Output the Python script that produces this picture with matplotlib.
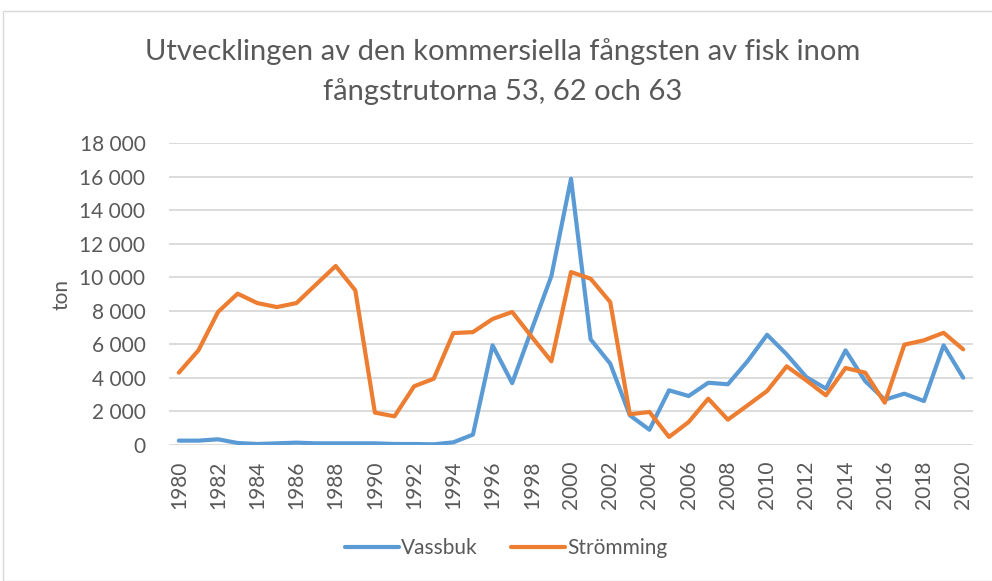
import matplotlib.pyplot as plt
import numpy as np
from matplotlib.patches import Rectangle

years = np.arange(1980, 2021)

vassbuk = [260, 260, 340, 120, 60, 100, 140, 100, 100, 100,
           100, 60, 60, 40, 160, 620, 5940, 3690, 6900, 10070,
           15870, 6300, 4850, 1770, 910, 3260, 2920, 3710, 3620, 4990,
           6570, 5400, 4050, 3360, 5640, 3810, 2700, 3060, 2620, 5940,
           4010]

stromming = [4310, 5640, 7930, 9020, 8460, 8220, 8460, 9570, 10670, 9220,
             1930, 1710, 3500, 3950, 6670, 6730, 7510, 7930, 6440, 4990,
             10310, 9910, 8520, 1830, 1970, 480, 1370, 2760, 1510, 2360,
             3220, 4690, 3850, 2960, 4590, 4310, 2520, 5980, 6240, 6690,
             5700]

yticks = np.arange(0, 18001, 2000)
ytick_labels = ["0"] + ["{:,}".format(v).replace(",", " ") for v in yticks[1:]]

txt = "#595959"
plt.rcParams['font.family'] = ['Lato', 'DejaVu Sans']

fig = plt.figure(figsize=(9.92, 5.81), dpi=100)
fig.patches.append(Rectangle((3 / 992, 0), 1, 1 - 11 / 581, transform=fig.transFigure,
                             fill=False, edgecolor="#D9D9D9", linewidth=1))
ax = fig.add_axes([169 / 992, 136 / 581, 804 / 992, 302 / 581])

ax.plot(years, vassbuk, color="#5B9BD5", linewidth=3.0, label="Vassbuk",
        solid_capstyle="round", solid_joinstyle="round")
ax.plot(years, stromming, color="#ED7D31", linewidth=3.0, label="Strömming",
        solid_capstyle="round", solid_joinstyle="round")

ax.set_xlim(1979.5, 2020.5)
ax.set_ylim(0, 18000)
ax.set_yticks(yticks)
ax.set_yticklabels(ytick_labels)
ax.set_xticks(years[::2])
ax.set_xticklabels([str(y) for y in years[::2]], rotation=90)
ax.grid(axis="y", color="#D9D9D9", linewidth=1.3)
ax.set_axisbelow(True)
for s in ax.spines.values():
    s.set_visible(False)
ax.tick_params(axis="y", length=0, pad=17, labelsize=15, labelcolor=txt)
ax.tick_params(axis="x", length=0, pad=11, labelsize=15, labelcolor=txt)
ax.set_ylabel("ton", fontsize=15, color=txt, labelpad=6)

fig.text(0.507, 1 - 52 / 581, "Utvecklingen av den kommersiella fångsten av fisk inom",
         ha="center", va="center", fontsize=21, color=txt)
fig.text(0.507, 1 - 92 / 581, "fångstrutorna 53, 62 och 63",
         ha="center", va="center", fontsize=21, color=txt)

fig.legend(loc="center", bbox_to_anchor=(0.51, 1 - 548 / 581), ncol=2, frameon=False,
           fontsize=15, handlelength=2.6, handletextpad=0.1, columnspacing=1.6,
           labelcolor=txt)

fig.savefig("out.png", dpi=100)
